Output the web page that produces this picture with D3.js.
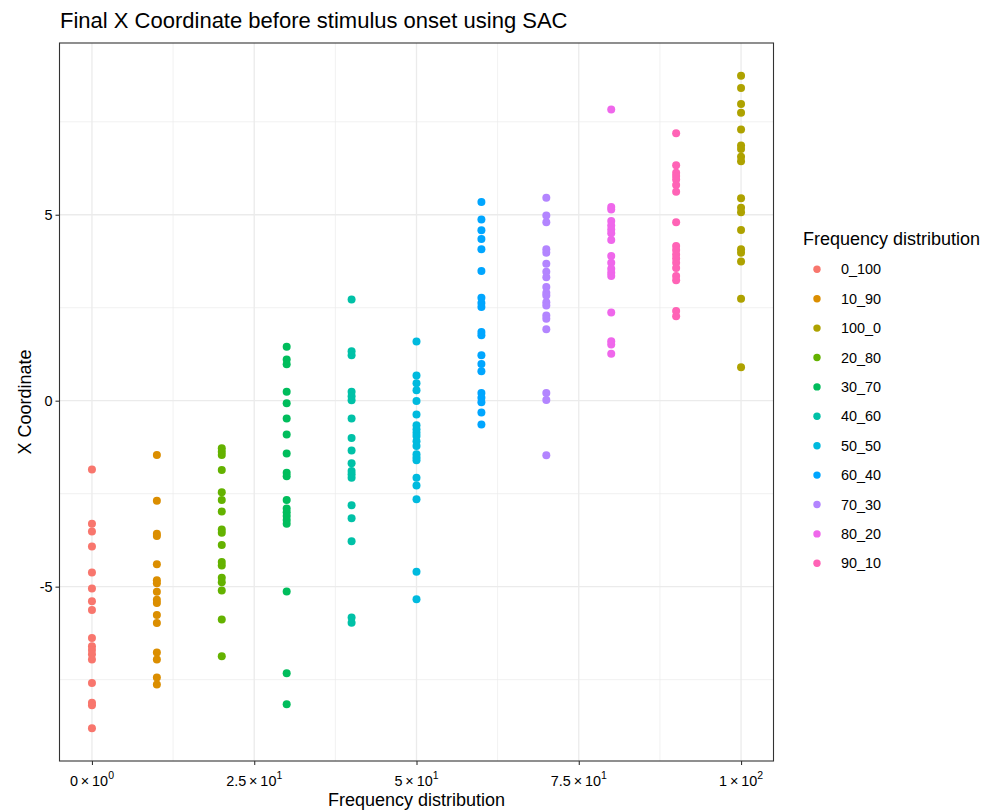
<!DOCTYPE html>
<html>
<head>
  <meta charset="utf-8">
  <script src="https://cdn.jsdelivr.net/npm/d3@7"></script>
  <style type="text/css">
    body { margin: 0; background: #fff; }
    text { font-family: "Liberation Sans", Arial, Helvetica, sans-serif; fill: #000; }
  </style>
</head>
<body>
<div id="chart"></div>
<script>
    var width = 989;
    var height = 811;

    // panel box, measured on the reference ("top" is taken by window.top)
    var pLeft = 59.5, pRight = 773.5, pTop = 43, pBottom = 761;

    // factor levels (alphabetical, like ggplot) and where each one sits on x
    var levels = ["0_100", "10_90", "100_0", "20_80", "30_70", "40_60", "50_50", "60_40", "70_30", "80_20", "90_10"];
    var levelX = [0, 10, 100, 20, 30, 40, 50, 60, 70, 80, 90];
    var colors = ["#F8766D", "#DB8E00", "#AEA200", "#64B200", "#00BD5C", "#00C1A7", "#00BADE", "#00A6FF", "#B385FF", "#EF67EB", "#FF63B6"];

    // final x coordinate per trial
    var y0_100 = [-1.85, -3.31, -3.52, -3.92, -4.62, -5.05, -5.39, -5.63, -6.38, -6.60, -6.70, -6.82, -6.96, -7.59, -8.12, -8.19, -8.81];
    var y10_90 = [-1.46, -2.69, -3.58, -3.64, -4.40, -4.83, -4.91, -5.14, -5.35, -5.44, -5.76, -5.98, -6.77, -6.96, -7.44, -7.63];
    var y100_0 = [8.74, 8.41, 7.98, 7.74, 7.29, 6.86, 6.77, 6.56, 6.44, 5.44, 5.19, 5.07, 4.59, 4.07, 3.98, 3.74, 2.74, 0.90];
    var y20_80 = [-1.28, -1.37, -1.46, -1.86, -2.46, -2.67, -2.98, -3.46, -3.55, -3.88, -4.34, -4.43, -4.76, -4.88, -5.10, -5.88, -6.87];
    var y30_70 = [1.45, 1.11, 0.98, 0.24, -0.07, -0.48, -0.91, -1.42, -1.94, -2.03, -2.67, -2.90, -3.00, -3.10, -3.21, -3.31, -5.13, -7.33, -8.16];
    var y40_60 = [2.72, 1.33, 1.22, 0.24, 0.12, 0.01, -0.48, -1.00, -1.34, -1.68, -1.89, -1.98, -2.07, -2.81, -3.16, -3.78, -5.83, -5.97];
    var y50_50 = [1.59, 0.68, 0.47, 0.28, -0.01, -0.37, -0.66, -0.77, -0.86, -0.95, -1.09, -1.22, -1.44, -1.53, -1.60, -2.07, -2.28, -2.65, -4.60, -5.34];
    var y60_40 = [5.34, 4.87, 4.58, 4.35, 4.07, 3.49, 2.77, 2.63, 2.52, 1.85, 1.76, 1.22, 0.99, 0.79, 0.21, 0.08, -0.04, -0.32, -0.64];
    var y70_30 = [5.46, 4.98, 4.80, 4.07, 3.98, 3.68, 3.47, 3.32, 3.06, 2.90, 2.83, 2.65, 2.56, 2.29, 2.20, 1.92, 0.21, 0.02, -1.47];
    var y80_20 = [7.83, 5.21, 5.14, 4.83, 4.71, 4.60, 4.50, 4.32, 3.89, 3.71, 3.55, 3.44, 3.35, 2.37, 1.60, 1.51, 1.26];
    var y90_10 = [7.19, 6.33, 6.13, 6.04, 5.95, 5.80, 5.62, 4.80, 4.16, 4.05, 3.93, 3.82, 3.71, 3.57, 3.35, 3.24, 2.41, 2.27];

    var levelValues = [y0_100, y10_90, y100_0, y20_80, y30_70, y40_60, y50_50, y60_40, y70_30, y80_20, y90_10];

    var xTicks = [0, 25, 50, 75, 100];
    var xTickMant = ["0", "2.5", "5", "7.5", "1"];
    var xTickExp = ["0", "1", "1", "1", "2"];
    var xMinor = [12.5, 37.5, 62.5, 87.5];
    var yTicks = [-5, 0, 5];
    var yMinor = [-7.5, -2.5, 2.5, 7.5];

    // flatten into one row per point (plotting order = factor order)
    var points = [];
    levels.forEach(function(lv, i) {
      levelValues[i].forEach(function(v) {
        points.push({level: lv, x: levelX[i], y: v});
      });
    });

    // ggplot style 5% expansion
    var ext = d3.extent(points, function(d) { return d.y; });
    var pad = (ext[1] - ext[0]) * 0.05;

    var x = d3.scaleLinear().domain([-5, 105]).range([pLeft, pRight]);
    var y = d3.scaleLinear().domain([ext[0] - pad, ext[1] + pad]).range([pBottom, pTop]);
    var color = d3.scaleOrdinal().domain(levels).range(colors);

    var svg = d3.select("#chart")
                .append("svg")
                .attr("width", width)
                .attr("height", height);

    svg.append("rect").attr("width", width).attr("height", height).attr("fill", "#fff");

    // grid
    var grid = svg.append("g");
    grid.selectAll(".ymin").data(yMinor).enter().append("line")
        .attr("x1", pLeft).attr("x2", pRight)
        .attr("y1", function(d) { return y(d); }).attr("y2", function(d) { return y(d); })
        .attr("stroke", "#EBEBEB").attr("stroke-width", 0.7);
    grid.selectAll(".xmin").data(xMinor).enter().append("line")
        .attr("y1", pTop).attr("y2", pBottom)
        .attr("x1", function(d) { return x(d); }).attr("x2", function(d) { return x(d); })
        .attr("stroke", "#EBEBEB").attr("stroke-width", 0.7);
    grid.selectAll(".ymaj").data(yTicks).enter().append("line")
        .attr("x1", pLeft).attr("x2", pRight)
        .attr("y1", function(d) { return y(d); }).attr("y2", function(d) { return y(d); })
        .attr("stroke", "#EBEBEB").attr("stroke-width", 1.3);
    grid.selectAll(".xmaj").data(xTicks).enter().append("line")
        .attr("y1", pTop).attr("y2", pBottom)
        .attr("x1", function(d) { return x(d); }).attr("x2", function(d) { return x(d); })
        .attr("stroke", "#EBEBEB").attr("stroke-width", 1.3);

    // points
    svg.append("g").selectAll("circle").data(points).enter().append("circle")
       .attr("cx", function(d) { return x(d.x); })
       .attr("cy", function(d) { return y(d.y); })
       .attr("r", 4)
       .attr("fill", function(d) { return color(d.level); });

    // panel border
    svg.append("rect")
       .attr("x", pLeft).attr("y", pTop)
       .attr("width", pRight - pLeft).attr("height", pBottom - pTop)
       .attr("fill", "none").attr("stroke", "#333333").attr("stroke-width", 1.1);

    // axes (d3 axes, restyled to look like ggplot)
    var yAxis = svg.append("g")
       .attr("transform", "translate(" + pLeft + ",0)")
       .call(d3.axisLeft(y).tickValues(yTicks).tickSize(4).tickPadding(3)
             .tickFormat(function(d) { return String(d); }));
    yAxis.select(".domain").remove();
    yAxis.selectAll("line").attr("stroke", "#333333").attr("stroke-width", 1.1);
    yAxis.selectAll("text").attr("font-size", 14.4).attr("fill", "#333333")
         .attr("font-family", "Liberation Sans, Arial, sans-serif");

    var xAxis = svg.append("g")
       .attr("transform", "translate(0," + pBottom + ")")
       .call(d3.axisBottom(x).tickValues(xTicks).tickSize(4).tickFormat(""));
    xAxis.select(".domain").remove();
    xAxis.selectAll("line").attr("stroke", "#333333").attr("stroke-width", 1.1);

    // x tick labels as mantissa x 10^exp
    var xl = svg.append("g").selectAll("text").data(xTicks).enter().append("text")
       .attr("x", function(d) { return x(d); })
       .attr("y", 786)
       .attr("text-anchor", "middle")
       .attr("font-size", 14.4)
       .attr("fill", "#333333");
    xl.append("tspan").text(function(d, i) { return xTickMant[i] + "\u2009\u00D7\u200910"; });
    xl.append("tspan").attr("dy", -7).attr("font-size", 10.5).text(function(d, i) { return xTickExp[i]; });

    // titles
    svg.append("text")
       .attr("x", 60).attr("y", 28)
       .attr("font-size", 22)
       .text("Final X Coordinate before stimulus onset using SAC");

    svg.append("text")
       .attr("x", (pLeft + pRight) / 2).attr("y", 806)
       .attr("text-anchor", "middle")
       .attr("font-size", 18)
       .text("Frequency distribution");

    svg.append("text")
       .attr("transform", "translate(31," + ((pTop + pBottom) / 2) + ") rotate(-90)")
       .attr("text-anchor", "middle")
       .attr("font-size", 18)
       .text("X Coordinate");

    // legend
    var legend = svg.append("g");
    legend.append("text")
          .attr("x", 803).attr("y", 245)
          .attr("font-size", 18)
          .text("Frequency distribution");

    var keyStep = 29.4;
    var keys = legend.selectAll(".key").data(levels).enter().append("g")
          .attr("transform", function(d, i) { return "translate(817," + (269.3 + i * keyStep) + ")"; });
    keys.append("circle").attr("r", 3.7).attr("fill", function(d) { return color(d); });
    keys.append("text")
        .attr("x", 24).attr("y", 5)
        .attr("font-size", 14.4)
        .text(function(d) { return d; });
</script>
</body>
</html>
